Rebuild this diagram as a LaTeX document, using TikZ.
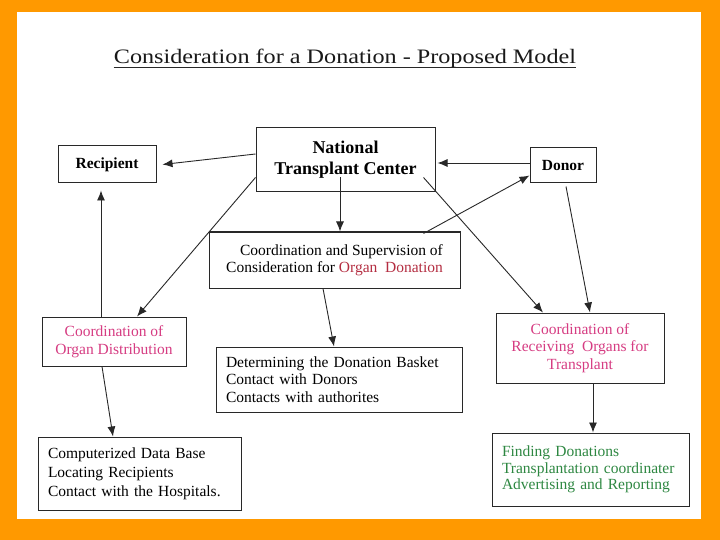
\documentclass[tikz,border=0pt]{standalone}
\usepackage{fontspec}
\setmainfont{Liberation Serif}
\usetikzlibrary{arrows.meta}
\definecolor{frameorange}{RGB}{255,153,0}
\definecolor{pinkc}{RGB}{214,60,130}
\definecolor{orgred}{RGB}{180,45,65}
\definecolor{greenc}{RGB}{45,135,65}
\definecolor{linec}{RGB}{40,40,40}
\begin{document}
\begin{tikzpicture}[x=1pt,y=-1pt,
  box/.style={draw=linec, line width=1pt, inner sep=0pt, align=center,
    font=\fontsize{15.5}{17.5}\selectfont},
  listbox/.style={box, align=left, inner xsep=10pt},
  boldbox/.style={box, font=\fontsize{15.5}{17.5}\selectfont\bfseries},
  arr/.style={draw=linec, line width=0.9pt, -{Latex[length=10pt,width=8pt]}}]
\fill[frameorange] (0,0) rectangle (720,540);
\fill[white] (17,12) rectangle (701,519);
\useasboundingbox (0,0) rectangle (720,540);

% title
\node[inner sep=0pt, anchor=base, text=black!90, font=\fontsize{20.5}{24}\selectfont] (title) at (345,64)
  {\scalebox{1.18}[1]{Consideration for a Donation - Proposed Model}};
\draw[linec, line width=1pt] ([yshift=-3.5pt]title.base west) -- ([yshift=-3.5pt]title.base east);

% boxes
\node[boldbox, minimum width=98pt, minimum height=37pt] (rec) at (107,164.5) {Recipient};
\node[boldbox, minimum width=179pt, minimum height=64pt,
  font=\fontsize{18}{21}\selectfont\bfseries] (ntc) at (345.5,160) {National\\Transplant Center};
\node[boldbox, minimum width=66pt, minimum height=35pt] (don) at (563,165.5) {Donor};
\node[box, align=right, minimum width=251pt, minimum height=56pt] (sup) at (334.5,260)
  {Coordination and Supervision of\\Consideration for \textcolor{orgred}{Organ\ \ Donation}};
\node[box, text=pinkc, minimum width=144pt, minimum height=49pt] (dist) at (114,341.5)
  {Coordination of\\Organ Distribution};
\node[box, text=pinkc, minimum width=168pt, minimum height=70pt] (recv) at (580,348)
  {Coordination of\\Receiving\ \ Organs for\\Transplant};
\node[listbox, text width=226pt, minimum height=65pt] (det) at (339,379.5)
  {Determining the Donation Basket\\Contact with Donors\\Contacts with authorites};
\node[listbox, text width=183pt, minimum height=73pt,
  font=\fontsize{15.5}{19}\selectfont] (comp) at (139.5,473.5)
  {Computerized Data Base\\Locating Recipients\\Contact with the Hospitals.};
\node[listbox, text=greenc, text width=177pt, minimum height=73pt,
  font=\fontsize{15.5}{16.5}\selectfont] (find) at (590.5,469.5)
  {Finding Donations\\Transplantation coordinater\\Advertising and Reporting};

% connectors
\draw[arr] ([yshift=6pt]ntc.west) -- ([xshift=6pt]rec.east);
\draw[arr] ([yshift=2.5pt]don.west) -- ([xshift=2pt,yshift=-3pt]ntc.east);
\draw[arr] ([xshift=-5.5pt,yshift=15pt]ntc.south) -- ([xshift=5.5pt]sup.north);
\draw[arr] ([yshift=15pt]ntc.south west) -- ([xshift=23pt]dist.north);
\draw[arr] ([xshift=-12pt,yshift=15pt]ntc.south east) -- ([xshift=-37pt]recv.north);
\draw[arr] ([xshift=-37pt,yshift=-2pt]sup.north east) -- ([yshift=8pt]don.south west);
\draw[arr] ([xshift=3pt,yshift=-3pt]don.south) -- ([xshift=10pt]recv.north);
\draw[arr] ([xshift=-11.5pt]sup.south) -- ([xshift=-5pt]det.north);
\draw[arr] ([xshift=-13pt]dist.north) -- ([xshift=-6pt,yshift=-7pt]rec.south);
\draw[arr] ([xshift=-12pt]dist.south) -- ([xshift=-26.5pt]comp.north);
\draw[arr] ([xshift=13pt]recv.south) -- ([xshift=2.5pt]find.north);
\end{tikzpicture}
\end{document}
